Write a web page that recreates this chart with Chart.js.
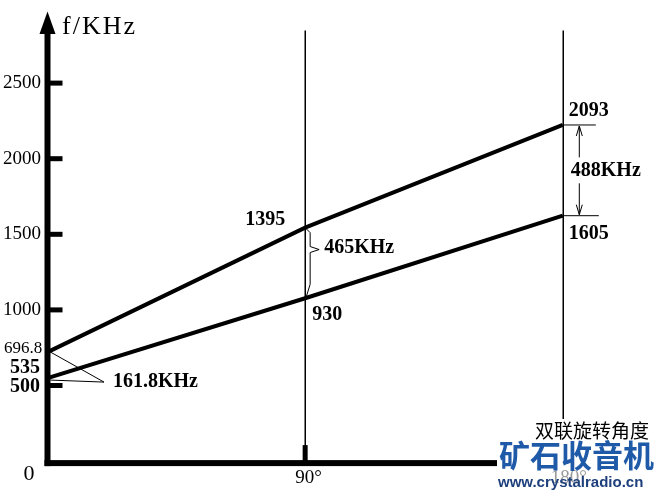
<!DOCTYPE html>
<html>
<head>
<meta charset="utf-8">
<script src="https://cdn.jsdelivr.net/npm/chart.js@4/dist/chart.umd.min.js"></script>
<style>
  html, body { margin: 0; padding: 0; background: #fff; }
  #wrap { width: 663px; height: 497px; }
</style>
</head>
<body>
<div id="wrap"><canvas id="c" width="663" height="497"></canvas></div>
<script>
// ---- data ----
const angles = [0, 90, 180];                  // 双联旋转角度 (degrees)
const upperFreq = [721, 1544, 2223];          // upper (oscillator) line as drawn
const lowerFreq = [549, 1077, 1623];          // lower (signal) line as drawn
const upperLabels = ['696.8', '1395', '2093'];
const lowerLabels = ['535', '930', '1605'];
const diffLabels = ['161.8KHz', '465KHz', '488KHz'];
const yTicks = [500, 1000, 1500, 2000, 2500];
const xTickLabels = ['90°', '180°'];
const xTicks = [90, 180];
const yTitle = 'f/KHz';
const xTitle = '双联旋转角度';

const SERIF = '"Liberation Serif", "DejaVu Serif", serif';

const overlay = {
  id: 'overlay',
  beforeDatasetsDraw(chart) {
    const ctx = chart.ctx, xs = chart.scales.x, ys = chart.scales.y;
    ctx.save();
    ctx.strokeStyle = '#000';
    ctx.lineWidth = 1.5;
    xTicks.forEach(v => {
      const px = Math.round(xs.getPixelForValue(v)) + 0.25;
      ctx.beginPath();
      ctx.moveTo(px, 30.5);
      ctx.lineTo(px, ys.getPixelForValue(0));
      ctx.stroke();
    });
    ctx.restore();
  },
  afterDatasetsDraw(chart) {
    const ctx = chart.ctx, xs = chart.scales.x, ys = chart.scales.y;
    const x0 = xs.getPixelForValue(0), y0 = ys.getPixelForValue(0);
    ctx.save();
    ctx.fillStyle = '#000';
    ctx.strokeStyle = '#000';
    // y axis
    ctx.fillRect(x0 - 3, 30, 6, y0 - 30 + 5);
    ctx.beginPath();
    ctx.moveTo(x0, 11.5);
    ctx.lineTo(x0 - 8, 34);
    ctx.lineTo(x0 + 8, 34);
    ctx.closePath();
    ctx.fill();
    // x axis
    ctx.fillRect(x0 - 3, y0 - 1, 663 - x0 + 3, 6);
    // y tick stubs
    yTicks.forEach(v => {
      const py = ys.getPixelForValue(v);
      ctx.fillRect(x0, py - 2.5, 15, 5);
    });
    // x tick stubs
    xTicks.forEach(v => {
      const px = xs.getPixelForValue(v);
      ctx.fillRect(px - 2.5, y0 - 16, 5, 16);
    });

    // tick labels
    ctx.textBaseline = 'middle';
    ctx.textAlign = 'right';
    yTicks.forEach(v => {
      const py = ys.getPixelForValue(v);
      if (v === 500) {
        ctx.font = 'bold 20px ' + SERIF;
        ctx.fillText(String(v), 40, py + 1.5);
      } else {
        ctx.font = '19px ' + SERIF;
        ctx.fillText(String(v), 41, py);
      }
    });
    ctx.font = '17px ' + SERIF;
    ctx.textAlign = 'left';
    ctx.fillText(upperLabels[0], 4, ys.getPixelForValue(upperFreq[0]) - 4);
    ctx.font = 'bold 20px ' + SERIF;
    ctx.textAlign = 'right';
    ctx.fillText(lowerLabels[0], 40, ys.getPixelForValue(lowerFreq[0]) - 10);
    ctx.font = '22px ' + SERIF;
    ctx.textAlign = 'center';
    ctx.fillText('0', 29, y0 + 13);
    ctx.font = '19px ' + SERIF;
    ctx.textAlign = 'left';
    ctx.fillText(xTickLabels[0], xs.getPixelForValue(xTicks[0]) - 10, y0 + 17);

    // y title
    ctx.font = '26px ' + SERIF;
    ctx.textAlign = 'left';
    if ('letterSpacing' in ctx) ctx.letterSpacing = '2px';
    ctx.fillText(yTitle, 62, 27);
    if ('letterSpacing' in ctx) ctx.letterSpacing = '0px';

    // point labels
    const xa = xs.getPixelForValue(angles[1]);
    const xb = xs.getPixelForValue(angles[2]);
    const yu1 = ys.getPixelForValue(upperFreq[1]), yl1 = ys.getPixelForValue(lowerFreq[1]);
    const yu2 = ys.getPixelForValue(upperFreq[2]), yl2 = ys.getPixelForValue(lowerFreq[2]);
    const yu0 = ys.getPixelForValue(upperFreq[0]), yl0 = ys.getPixelForValue(lowerFreq[0]);
    ctx.font = 'bold 20px ' + SERIF;
    ctx.textAlign = 'right';
    ctx.fillText(upperLabels[1], xa - 20, yu1 - 8);
    ctx.textAlign = 'left';
    ctx.fillText(lowerLabels[1], xa + 7, yl1 + 17);
    ctx.fillText(upperLabels[2], xb + 6, yu2 - 14);
    ctx.fillText(lowerLabels[2], xb + 6, yl2 + 18);

    // 161.8KHz pointer
    ctx.lineWidth = 1;
    const apx = 104, apy = yl0 + 4;
    ctx.beginPath();
    ctx.moveTo(x0 + 3, yu0);
    ctx.lineTo(apx, apy);
    ctx.lineTo(x0 + 3, yl0 + 2);
    ctx.stroke();
    ctx.fillText(diffLabels[0], 113, apy);

    // 465KHz brace
    const bx = xa + 5, tipY = yu1 + (yl1 - yu1) * 0.31;
    ctx.beginPath();
    ctx.moveTo(xa + 1, yu1 + 1);
    ctx.lineTo(bx, yu1 + 5);
    ctx.lineTo(bx, tipY - 3);
    ctx.lineTo(bx + 9, tipY);
    ctx.lineTo(bx, tipY + 3);
    ctx.lineTo(bx, yl1 - 14);
    ctx.lineTo(xa + 1, yl1 - 1);
    ctx.stroke();
    ctx.fillText(diffLabels[1], xa + 19, tipY - 2);

    // 488KHz dimension
    ctx.beginPath();
    ctx.moveTo(xb, yu2); ctx.lineTo(xb + 33, yu2);
    ctx.moveTo(xb, yl2); ctx.lineTo(xb + 36, yl2);
    const ax = xb + 16.5;
    const mid = (yu2 + yl2) / 2;
    ctx.moveTo(ax, yu2 + 1); ctx.lineTo(ax, mid - 13);
    ctx.moveTo(ax, mid + 13); ctx.lineTo(ax, yl2 - 1);
    ctx.moveTo(ax - 3, yu2 + 11); ctx.lineTo(ax, yu2 + 1); ctx.lineTo(ax + 3, yu2 + 11);
    ctx.moveTo(ax - 3, yl2 - 11); ctx.lineTo(ax, yl2 - 1); ctx.lineTo(ax + 3, yl2 - 11);
    ctx.stroke();
    ctx.fillText(diffLabels[2], xb + 8, mid);

    // x title + watermark area
    ctx.fillStyle = '#fff';
    ctx.fillRect(533, 419, 130, 22);
    ctx.fillRect(497, 440, 166, 57);
    ctx.fillStyle = '#000';
    ctx.font = '19px "Noto Sans CJK SC", sans-serif';
    ctx.textAlign = 'left';
    ctx.fillText(xTitle, 535, 431);
    ctx.fillStyle = '#999';
    ctx.font = '19px ' + SERIF;
    ctx.fillText(xTickLabels[1], xb - 12, y0 + 17);
    ctx.fillStyle = '#1f5aa8';
    ctx.font = 'bold 31px "Noto Sans CJK SC", sans-serif';
    ctx.fillText('矿石收音机', 499, 455);
    ctx.fillStyle = '#1d3f7c';
    ctx.font = 'bold 15px "Liberation Sans", Arial, sans-serif';
    ctx.fillText('www.crystalradio.cn', 498, 483);
    ctx.restore();
  }
};

new Chart(document.getElementById('c'), {
  type: 'line',
  data: {
    datasets: [
      { data: angles.map((a, i) => ({ x: a, y: upperFreq[i] })), borderColor: '#000', borderWidth: 4, pointRadius: 0, tension: 0, clip: false },
      { data: angles.map((a, i) => ({ x: a, y: lowerFreq[i] })), borderColor: '#000', borderWidth: 4, pointRadius: 0, tension: 0, clip: false }
    ]
  },
  options: {
    responsive: false,
    animation: false,
    devicePixelRatio: 1,
    layout: { padding: { left: 47.5, right: 0, top: 7.5, bottom: 35.9 } },
    plugins: { legend: { display: false }, tooltip: { enabled: false } },
    scales: {
      x: { type: 'linear', min: 0, max: 215, display: false },
      y: { type: 'linear', min: 0, max: 3000, display: false }
    }
  },
  plugins: [overlay]
});
</script>
</body>
</html>
